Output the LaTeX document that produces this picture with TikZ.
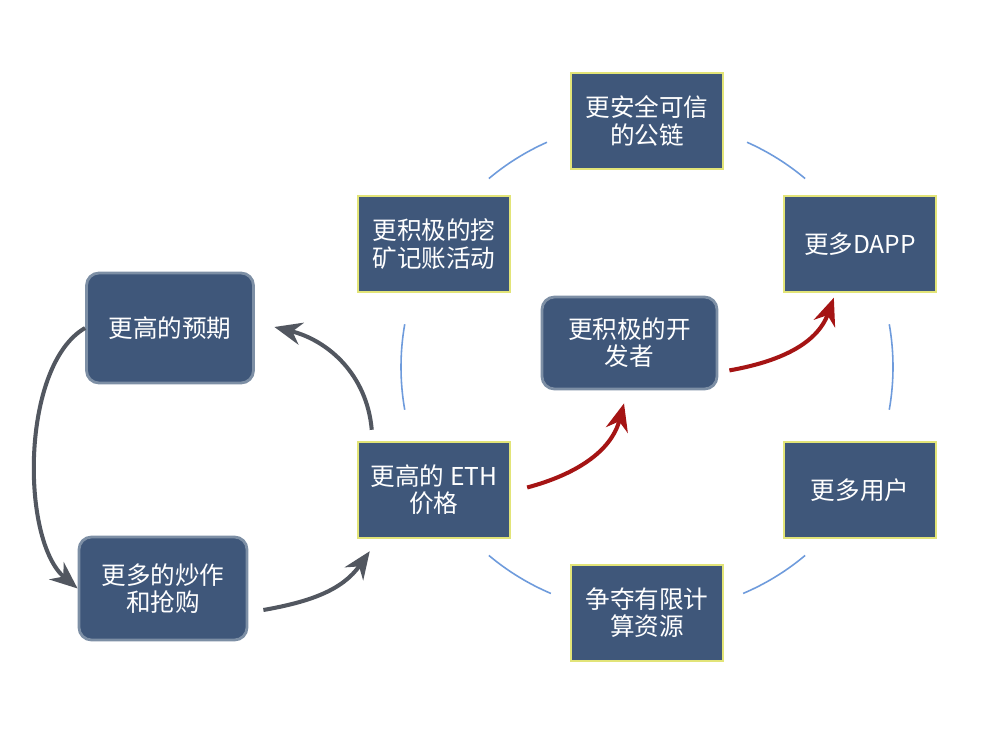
\documentclass[tikz,border=0pt]{standalone}
\usepackage{fontspec}
\newfontfamily\cjk{Noto Sans CJK SC}
\usepackage{tikz}
\usetikzlibrary{arrows.meta}
\definecolor{boxblue}{RGB}{63,87,122}
\definecolor{glow}{RGB}{226,228,120}
\definecolor{rim}{RGB}{125,143,165}
\definecolor{ringblue}{RGB}{110,155,220}
\definecolor{pull}{RGB}{82,87,96}
\definecolor{push}{RGB}{165,20,20}
\tikzset{%
	stage/.style={%
		rectangle,
		fill=boxblue,
		draw=glow,
		line width=0.8pt,
		text=white,
		align=center,
		minimum width=3.04cm,
		minimum height=1.92cm,
		font=\cjk\fontsize{14}{15.5}\selectfont
	},
	hub/.style={%
		stage,
		rounded corners=0.25cm,
		draw=rim,
		line width=1.6pt
	}
}
\begin{document}
\begin{tikzpicture}[ringline/.style={draw=ringblue, line width=0.9pt}, grayarrow/.style={draw=pull, line width=2.3pt, -{Stealth[length=0.55cm,width=0.45cm]}}, redarrow/.style={grayarrow, draw=push}]
        \fill[white] (0,0) rectangle (20,15);
        \useasboundingbox (0,0) rectangle (20,15);
        \coordinate (c) at (12.94,7.66);
        \draw[ringline] ([shift={(-10:4.92)}]c) arc[start angle=-10, end angle=10, radius=4.92];
        \draw[ringline] ([shift={(50:4.92)}]c) arc[start angle=50, end angle=66, radius=4.92];
        \draw[ringline] ([shift={(114:4.92)}]c) arc[start angle=114, end angle=130, radius=4.92];
        \draw[ringline] ([shift={(170:4.92)}]c) arc[start angle=170, end angle=190, radius=4.92];
        \draw[ringline] ([shift={(230:4.92)}]c) arc[start angle=230, end angle=247, radius=4.92];
        \draw[ringline] ([shift={(293:4.92)}]c) arc[start angle=293, end angle=310, radius=4.92];
        \node[stage] (chain) at ([shift={(90:4.92)}]c) {更安全可信\\的公链};
        \node[stage] (dapp) at ([shift={(30:4.92)}]c) {更多DAPP};
        \node[stage] (users) at ([shift={(-30:4.92)}]c) {更多用户};
        \node[stage] (compute) at ([shift={(-90:4.92)}]c) {争夺有限计\\算资源};
        \node[stage] (eth) at ([shift={(210:4.92)}]c) {更高的 ETH\\价格};
        \node[stage] (mining) at ([shift={(150:4.92)}]c) {更积极的挖\\矿记账活动};
        \node[hub, minimum width=3.5cm, minimum height=1.84cm] (dev) at ([shift={(-0.35,0.48)}]c) {更积极的开\\发者};
        \node[hub, minimum width=3.34cm, minimum height=2.2cm] (expect) at (3.40,8.44) {更高的预期};
        \node[hub, minimum width=3.36cm, minimum height=2.06cm] (hype) at (3.26,3.23) {更多的炒作\\和抢购};
        \draw[grayarrow] ([shift={(0.29,0.23)}]eth.north west) to[out=95, in=-14] ([shift={(0.39,0.02)}]expect.east);
        \draw[grayarrow] (expect.west) to[out=210, in=140, looseness=0.73] (hype.west);
        \draw[grayarrow] ([shift={(0.3,-0.43)}]hype.east) to[out=10, in=235] ([shift={(0.25,-0.25)}]eth.south west);
        \draw[redarrow] ([shift={(0.33,0.05)}]eth.east) to[out=15, in=255] ([shift={(-0.11,-0.26)}]dev.south);
        \draw[redarrow] ([shift={(0.22,0.4)}]dev.south east) to[out=10, in=250] ([shift={(1.01,-0.1)}]dapp.south west);
    \end{tikzpicture}
\end{document}
